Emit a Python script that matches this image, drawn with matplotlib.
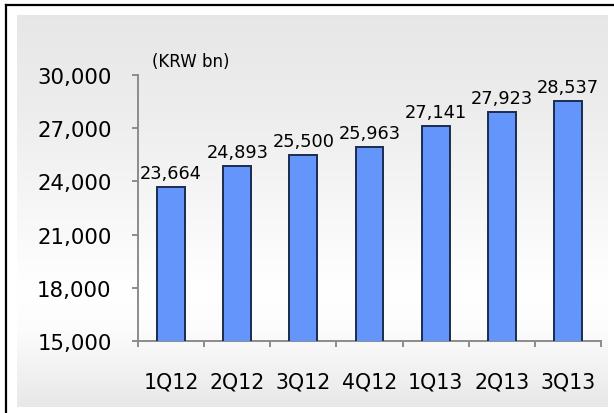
import numpy as np
import matplotlib
matplotlib.use("Agg")
import matplotlib.pyplot as plt
from matplotlib.lines import Line2D
from matplotlib.ticker import FuncFormatter, FixedLocator

quarters = ["1Q12", "2Q12", "3Q12", "4Q12", "1Q13", "2Q13", "3Q13"]
values = [23664, 24893, 25500, 25963, 27141, 27923, 28537]
y_ticks = [15000, 18000, 21000, 24000, 27000, 30000]
unit_label = "(KRW bn)"

W, H = 614, 414
fig = plt.figure(figsize=(W / 100, H / 100), dpi=100)
fig.patch.set_facecolor("white")

# gradient panel behind the chart
panel = fig.add_axes([17 / W, 1 - 408 / H, (608 - 17) / W, (408 - 16) / H], zorder=0)
stops = np.array([0.0, 0.25, 0.7, 0.8, 1.0])
levels = np.array([0.905, 0.93, 1.0, 0.99, 0.91])
t = np.linspace(0, 1, 300)
g = np.interp(t, stops, levels)
img = np.repeat(g[:, None], 2, axis=1)
panel.imshow(np.dstack([img, img, img]), aspect="auto", extent=[0, 1, 0, 1], origin="upper")
panel.set_axis_off()

# frame lines (top and left)
fig.add_artist(Line2D([5.5 / W, 5.5 / W], [1 - 5.5 / H, 0], transform=fig.transFigure,
                      color="black", lw=1.6, solid_capstyle="projecting"))
fig.add_artist(Line2D([5.5 / W, 1.0], [1 - 5.5 / H, 1 - 5.5 / H], transform=fig.transFigure,
                      color="black", lw=1.6, solid_capstyle="projecting"))

ax = fig.add_axes([138 / W, 1 - 342 / H, (601 - 138) / W, (342 - 76) / H], zorder=1)
ax.patch.set_alpha(0)

x = np.arange(len(quarters))
ax.bar(x, values, width=0.42, color="#6495fa", edgecolor="#1b2c4f", linewidth=1.4, zorder=3)

for xi, v in zip(x, values):
    ax.annotate(f"{v:,}", (xi, v), xytext=(0, 6.5), textcoords="offset points",
                ha="center", va="baseline", fontsize=12.8, color="black")

ax.set_xlim(-0.5, len(quarters) - 0.5)
ax.set_ylim(y_ticks[0], y_ticks[-1])
ax.set_yticks(y_ticks)
ax.yaxis.set_major_formatter(FuncFormatter(lambda v, p: f"{int(v):,}"))

# boundary ticks on the x-axis, labels centred under the bars
ax.xaxis.set_major_locator(FixedLocator(np.arange(len(quarters) + 1) - 0.5))
ax.xaxis.set_major_formatter(FuncFormatter(lambda v, p: ""))
ax.set_xticks(x, minor=True)
ax.set_xticklabels(quarters, minor=True)

axis_color = "#8c8c8c"
for s in ("top", "right"):
    ax.spines[s].set_visible(False)
for s in ("left", "bottom"):
    ax.spines[s].set_color(axis_color)
    ax.spines[s].set_linewidth(1.4)

ax.tick_params(axis="y", which="major", direction="out", length=4, width=1.4,
               color=axis_color, labelsize=15.3, pad=15)
ax.tick_params(axis="x", which="major", direction="out", length=4, width=1.4, color=axis_color)
ax.tick_params(axis="x", which="minor", length=0, labelsize=14.8, pad=22)

fig.text(152 / W, 1 - 62 / H, unit_label, fontsize=12, va="center", ha="left")

fig.savefig("out.png", dpi=100)
